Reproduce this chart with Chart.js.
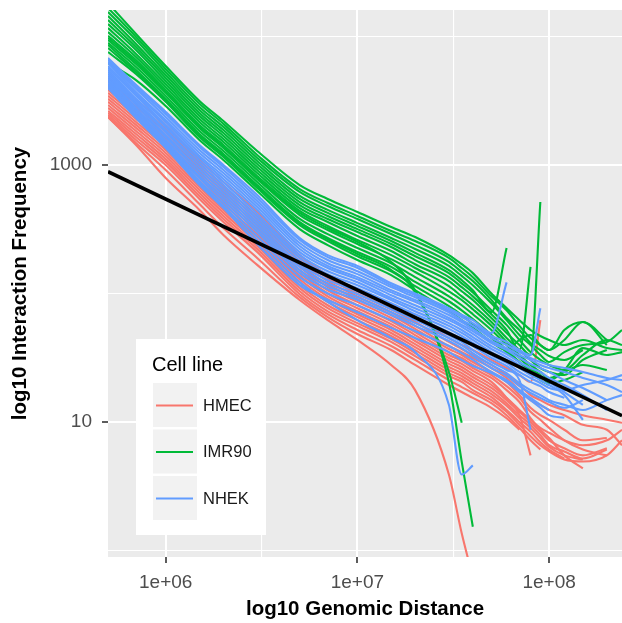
<!DOCTYPE html>
<html><head><meta charset="utf-8">
<script src="https://cdn.jsdelivr.net/npm/chart.js@4.4.1/dist/chart.umd.min.js"></script>
<style>html,body{margin:0;padding:0;background:#fff;}#wrap{width:622px;height:623px;position:relative;}</style>
</head><body><div id="wrap"><canvas id="c"></canvas></div>
<script>
const DISTANCE = [5e5, 7e5, 1e6, 1.5e6, 2e6, 3e6, 5e6, 7e6, 1e7, 1.5e7, 2e7, 3e7, 3.5e7, 4e7, 5e7, 6e7, 7e7, 8e7, 9e7, 1e8, 1.2e8, 1.5e8, 2e8, 2.4e8];

const HMEC = [
  [4750, 3210, 2050, 1094, 737, 431, 199, 139, 106, 81, 64.4, 45, 39.7, 36.3, 30.4, 26.3, 23.2, 20.5, 62],
  [4500, 2990, 1908, 1037, 686, 401, 189, 132, 100, 75.4, 60, 42, 37, 33.2, 27.8, 23.2, 19.4, 16.2, 14.8, 13.6, 12.4, 11.3, 10.4, 9.86],
  [4260, 2830, 1804, 982, 650, 380, 179, 125, 95, 71.4, 56, 39, 35, 31.5, 26.3, 22, 17.7, 14.8, 13.6, 12.4, 11.3, 9.5, 8.7, 6.6],
  [4050, 2680, 1710, 931, 617, 360, 169, 118, 90.3, 68, 53, 37, 33.2, 29.3, 24.5, 20.5, 16.2, 12.9, 11.3, 10.4, 8.7, 7.2, 7.5],
  [3840, 2540, 1623, 882, 584, 341, 161, 112, 86, 64.4, 50, 35, 31.5, 27.8, 23.2, 19, 15.4, 12, 10.4, 9, 7.2, 6.1, 5.5],
  [3640, 2410, 1538, 836, 553, 323, 152, 106, 81, 61, 47.5, 33.2, 29.9, 26.3, 22, 17.7, 14.3, 10.7, 8.7, 7.5, 5.5, 4.36],
  [3450, 2280, 1458, 792, 524, 306, 144, 100, 76.8, 57.7, 45, 31.5, 28.3, 25, 20.5, 15.4, 11.3, 5.5],
  [3270, 2160, 1382, 750, 497, 290, 137, 95, 72.7, 55, 42.7, 29.9, 26.8, 23.6, 19.4, 15.4, 12.4, 10.4, 9, 8.25, 7.2, 6.6, 7.2, 8.7],
  [3100, 2050, 1309, 711, 471, 275, 129, 90.3, 69, 52, 40.4, 28.3, 25.4, 22.4, 18.4, 14.8, 12, 10, 8.4, 7.2, 6.25, 5.5, 6.25],
  [2930, 1943, 1240, 674, 447, 261, 122.5, 86, 65.6, 49.3, 38.3, 26.8, 24, 21.2, 17.4, 14, 11.3, 9.5, 7.9, 6.6, 5.9, 5.2, 6.1],
  [2780, 1837, 1176, 639, 424, 247, 116, 81, 62, 46.7, 36.3, 25.4, 22.8, 20.1, 16.5, 13.4, 10.7, 9, 7.5, 6.4, 5.5, 5.1],
  [2630, 1741, 1113, 606, 401, 234, 110, 76.8, 58.8, 44.3, 34.4, 24, 21.6, 19, 15.6, 12.4, 10, 8.4, 6.95, 6.1, 5.2],
  [2540, 1650, 1057, 574, 380, 222, 104, 72.7, 56, 42, 32.6, 22.8, 20.5, 17.7, 14.8, 12, 9.5, 7.76, 6.6, 5.9, 5.1, 4.92, 5.5, 7.2],
  [2450, 1566, 1000, 544, 360, 210, 98.7, 69, 52, 39, 30.4, 21.2, 18.7, 16.8, 14, 11.3, 9, 7.2, 6.1],
  [2364, 1484, 914, 497, 323, 189, 93.6, 65.6, 48.4, 36.3, 27.8, 19.4, 17.1, 15.4, 12.9, 10.7, 8.7],
  [2364, 1432, 792, 447, 285, 167, 89, 62, 43.5, 27.8, 17.7, 3.9, 1.36, 0.62]
];

const IMR90 = [
  [18200, 10460, 5890, 3150, 2200, 1286, 698, 544, 431, 329, 275, 199, 169, 144, 100, 77, 62, 52, 46.7, 43.5, 39.7, 43.5, 37.6, 36.3],
  [16670, 9920, 5590, 2990, 2090, 1197, 650, 506, 401, 306, 256, 189, 158, 134, 95, 74, 56, 45, 39.7, 36.3, 52, 60, 39.7],
  [15500, 9400, 5290, 2830, 1978, 1134, 617, 479, 380, 290, 238, 176, 147, 125, 89, 64.4, 52, 41.2, 36.3, 32.6, 30.4, 36.3],
  [14430, 8750, 5010, 2680, 1870, 1075, 574, 447, 353, 270, 222, 164, 137, 116, 84, 62, 47.5, 39.7, 33.2, 29.3, 35, 39.7, 42, 52],
  [13430, 8290, 4750, 2540, 1772, 1018, 544, 424, 335, 256, 207, 152, 127, 106, 71.4, 226],
  [12500, 7850, 4500, 2410, 1680, 965, 515, 401, 317, 243, 195, 144, 120, 102, 74, 57, 43.5, 35, 30.4, 27.8, 25.4, 33.2, 43.5, 39.7],
  [11630, 7310, 4260, 2280, 1592, 914, 488, 380, 301, 230, 182, 134, 112, 95, 69, 52, 36.3, 161],
  [10840, 6930, 4050, 2160, 1511, 866, 462, 360, 280, 214, 169, 125, 104, 89, 64.4, 49.3, 39.7, 33.2, 515],
  [10100, 6560, 3840, 2050, 1432, 821, 439, 335, 261, 199, 158, 114, 95, 81, 60, 45, 36.3, 30.4, 26.3, 24.5, 23.2, 30.4, 36.3],
  [9400, 6110, 3640, 1943, 1357, 778, 408, 312, 243, 185, 147, 104, 89, 75.4, 56, 42, 33.2, 27.8, 24.5, 22, 25.4, 37.6, 33.2, 35],
  [8910, 5790, 3450, 1837, 1286, 737, 380, 290, 226, 172, 134, 95, 81, 69, 52, 39.7, 31.5, 26.3, 23.2, 20.1, 21.2, 24.5],
  [8590, 5480, 3270, 1741, 1219, 698, 360, 270, 210, 161, 123, 87, 74, 63.3, 47.5, 36.3, 29.3, 24.5, 21.2, 19.4],
  [7570, 5100, 3100, 1650, 1155, 661, 341, 256, 195, 149, 114, 79.6, 68, 57.7, 45, 35, 29.3, 25.4, 22.8, 21.2, 24.5, 27.8, 25.4],
  [6220, 4580, 2880, 1566, 1094, 628, 317, 238, 182, 139, 106, 72.7, 62, 54, 42, 36.3, 43.5, 47.5, 39.7, 36.3, 43.5, 60, 43.5],
  [9740, 6330, 3700, 1978, 1382, 792, 424, 323, 252, 176, 106, 24.5, 9.86],
  [8140, 5290, 3210, 1710, 1197, 686, 353, 265, 203, 152, 102, 20.4, 4.92, 1.53]
];

const NHEK = [
  [6800, 4200, 2590, 1432, 1000, 584, 270, 199, 164, 120, 100, 76.8, 68, 62, 49.3, 122],
  [6560, 4050, 2495, 1382, 965, 553, 261, 192, 158, 116, 97, 74, 65.6, 58.8, 46.7, 42, 36.3, 33.2, 76.8],
  [6330, 3910, 2364, 1309, 914, 524, 247, 182, 149, 112, 93.6, 71.4, 62, 56, 45, 39.7, 35, 31.5, 29.3, 27.8, 26.3, 24.5, 22, 21.2],
  [6220, 3700, 2240, 1240, 866, 497, 234, 172, 141.5, 106, 89, 68, 60, 53, 42.7, 37.6, 33.2, 30.4, 27.8, 26.3, 24.5, 22, 19.4, 17.1],
  [5890, 3575, 2160, 1176, 821, 471, 222, 164, 134, 102, 86, 64.4, 57, 51, 41.2, 36.3, 31.5, 28.3, 26.3, 24.5, 21.2, 18.4, 14.8],
  [5690, 3450, 2050, 1134, 778, 447, 210, 158, 129, 97, 81, 62, 55, 48.4, 39, 33.8, 29.3, 26.3, 24.5, 22, 19.4, 16.2, 12.4],
  [5480, 3270, 1978, 1075, 737, 416, 199, 149, 122.5, 92, 76.8, 58.8, 52, 45.8, 37, 32, 27.8, 24.5, 22.8, 20.5, 17.1, 13.6],
  [5290, 3150, 1870, 1018, 698, 394, 189, 141.5, 116, 89, 72.7, 56, 49.3, 43.5, 35, 30.4, 26.3, 23.2, 21.2, 19.4, 16.2, 10.4],
  [5100, 3040, 1804, 965, 661, 373, 179, 134, 110, 84, 69, 53, 46.7, 41.2, 33.2, 28.8, 24.5, 22, 20.1, 18.4, 17.7, 19.4, 21.2, 23.2],
  [4920, 2930, 1710, 914, 628, 353, 169, 127, 104, 79.6, 65.6, 50, 44.3, 39, 31.5, 27.3, 23.2, 20.5, 19, 17.1, 15.4],
  [4750, 2780, 1650, 866, 595, 335, 161, 120, 98.7, 75.4, 62, 47.5, 42, 36.3, 29.3, 25.4, 21.2, 8.7],
  [4580, 2680, 1566, 821, 564, 317, 152, 114, 93.6, 71.4, 58.8, 45, 39.7, 34.4, 27.8, 24, 20.1, 17.7, 16.2, 14.8, 13.6, 12.4, 14.8, 16.2],
  [4420, 2590, 1511, 792, 534, 301, 144, 108, 89, 68, 56, 42.7, 37.6, 32.6, 26.3, 22.8, 19, 16.8, 15.4, 14.3, 12.9, 14.8],
  [4260, 2495, 1458, 750, 506, 280, 134, 100, 81, 62, 51, 39, 34.4, 30.4, 24.5, 21.2, 17.7, 15.4, 13.6, 12.4],
  [4120, 2410, 1407, 723, 479, 261, 122.5, 86, 62, 45, 35, 13.6, 3.9, 4.6],
  [3975, 2323, 1357, 698, 462, 243, 116, 89, 71.4, 54, 45, 35, 30.4, 27.3, 24, 20.5, 17.1, 14.8, 12.9, 11.3, 10.8]
];

const FIT_DISTANCE = [5e5, 2.4e8];
const FIT_FREQUENCY = [887, 11.2];

const CELL_LINES = ['HMEC', 'IMR90', 'NHEK'];
const CELL_COLORS = ['#F8766D', '#00BA38', '#619CFF'];

const X_MAJOR = [1e6, 1e7, 1e8];
const X_LABELS = ['1e+06', '1e+07', '1e+08'];
const X_MINOR = [3162278, 31622777];
const Y_MAJOR = [10, 1000];
const Y_LABELS = ['10', '1000'];
const Y_MINOR = [1, 100, 10000];

const FONT = '"Liberation Sans", Arial, sans-serif';

const toPoints = vals => vals.map((v, i) => ({x: DISTANCE[i], y: v}));
const datasets = [];
datasets.push({
  label: 'fit',
  data: FIT_DISTANCE.map((d, i) => ({x: d, y: FIT_FREQUENCY[i]})),
  borderColor: '#000', borderWidth: 3.6, order: -1
});
// earlier datasets are painted on top: NHEK, then IMR90, then HMEC underneath
[[NHEK, 2], [IMR90, 1], [HMEC, 0]].forEach(([g, k]) => {
  g.forEach(vals => datasets.push({
    label: CELL_LINES[k],
    data: toPoints(vals),
    borderColor: CELL_COLORS[k],
    borderWidth: 2.1
  }));
});

const isMajor = (v, arr) => arr.some(m => Math.abs(Math.log10(v) - Math.log10(m)) < 1e-6);

const bgPlugin = {
  id: 'bg',
  beforeDraw(chart) {
    const {ctx, chartArea: a} = chart;
    ctx.save();
    ctx.fillStyle = '#fff';
    ctx.fillRect(0, 0, chart.width, chart.height);
    ctx.fillStyle = '#EBEBEB';
    ctx.fillRect(a.left, a.top, a.right - a.left, a.bottom - a.top);
    ctx.restore();
  }
};

const legendPlugin = {
  id: 'cellLegend',
  afterDraw(chart) {
    const ctx = chart.ctx;
    ctx.save();
    ctx.fillStyle = '#fff';
    ctx.fillRect(136, 339, 130, 196);
    ctx.fillStyle = '#000';
    ctx.font = '20px ' + FONT;
    ctx.textAlign = 'left';
    ctx.textBaseline = 'alphabetic';
    ctx.fillText('Cell line', 152, 371);
    const tops = [383, 429.5, 476];
    CELL_LINES.forEach((name, i) => {
      ctx.fillStyle = '#F2F2F2';
      ctx.fillRect(153, tops[i], 44, 44);
      ctx.strokeStyle = CELL_COLORS[i];
      ctx.lineWidth = 2;
      ctx.beginPath();
      ctx.moveTo(156, tops[i] + 22.5);
      ctx.lineTo(193, tops[i] + 22.5);
      ctx.stroke();
      ctx.fillStyle = '#1A1A1A';
      ctx.font = '16.5px ' + FONT;
      ctx.textBaseline = 'middle';
      ctx.fillText(name, 203, tops[i] + 23);
    });
    ctx.restore();
  }
};

function gridOpts(majors) {
  return {
    color: '#FFFFFF',
    lineWidth: c => (c.tick && isMajor(c.tick.value, majors)) ? 2 : 1.1,
    tickColor: c => (c.tick && isMajor(c.tick.value, majors)) ? '#333333' : 'rgba(0,0,0,0)',
    tickWidth: 1.6,
    tickLength: 6,
    drawTicks: true
  };
}

new Chart(document.getElementById('c'), {
  type: 'line',
  data: {datasets},
  plugins: [bgPlugin, legendPlugin],
  options: {
    responsive: true,
    maintainAspectRatio: false,
    animation: false,
    layout: {padding: {top: 10, right: 0, left: 0, bottom: 0}},
    elements: {point: {radius: 0}, line: {cubicInterpolationMode: 'monotone', borderJoinStyle: 'round'}},
    plugins: {legend: {display: false}, tooltip: {enabled: false}},
    scales: {
      x: {
        type: 'logarithmic',
        min: 5e5, max: 2.4e8,
        border: {display: false},
        grid: gridOpts(X_MAJOR),
        afterBuildTicks: s => { s.ticks = X_MAJOR.concat(X_MINOR).sort((a, b) => a - b).map(v => ({value: v})); },
        afterFit: s => { s.height = 66; s.paddingLeft = 0; s.paddingRight = 0; },
        ticks: {
          autoSkip: false, maxRotation: 0, padding: 8, color: '#4D4D4D',
          font: {family: FONT, size: 19},
          callback: function(v) { const i = X_MAJOR.findIndex(m => isMajor(v, [m])); return i >= 0 ? X_LABELS[i] : ''; }
        },
        title: {display: true, text: 'log10 Genomic Distance', color: '#000',
          font: {family: FONT, size: 20.5, weight: 'bold'}, padding: {top: 0, bottom: 1}}
      },
      y: {
        type: 'logarithmic',
        min: 0.89, max: 16070,
        border: {display: false},
        grid: gridOpts(Y_MAJOR),
        afterBuildTicks: s => { s.ticks = Y_MAJOR.concat(Y_MINOR).sort((a, b) => a - b).map(v => ({value: v})); },
        afterFit: s => { s.width = 108; s.paddingTop = 0; s.paddingBottom = 0; },
        ticks: {
          autoSkip: false, padding: 10, color: '#4D4D4D',
          font: {family: FONT, size: 19},
          callback: function(v) { const i = Y_MAJOR.findIndex(m => isMajor(v, [m])); return i >= 0 ? Y_LABELS[i] : ''; }
        },
        title: {display: true, text: 'log10 Interaction Frequency', color: '#000',
          font: {family: FONT, size: 20.5, weight: 'bold'}, padding: {top: 8, bottom: 0}}
      }
    }
  }
});
</script>
</body></html>
